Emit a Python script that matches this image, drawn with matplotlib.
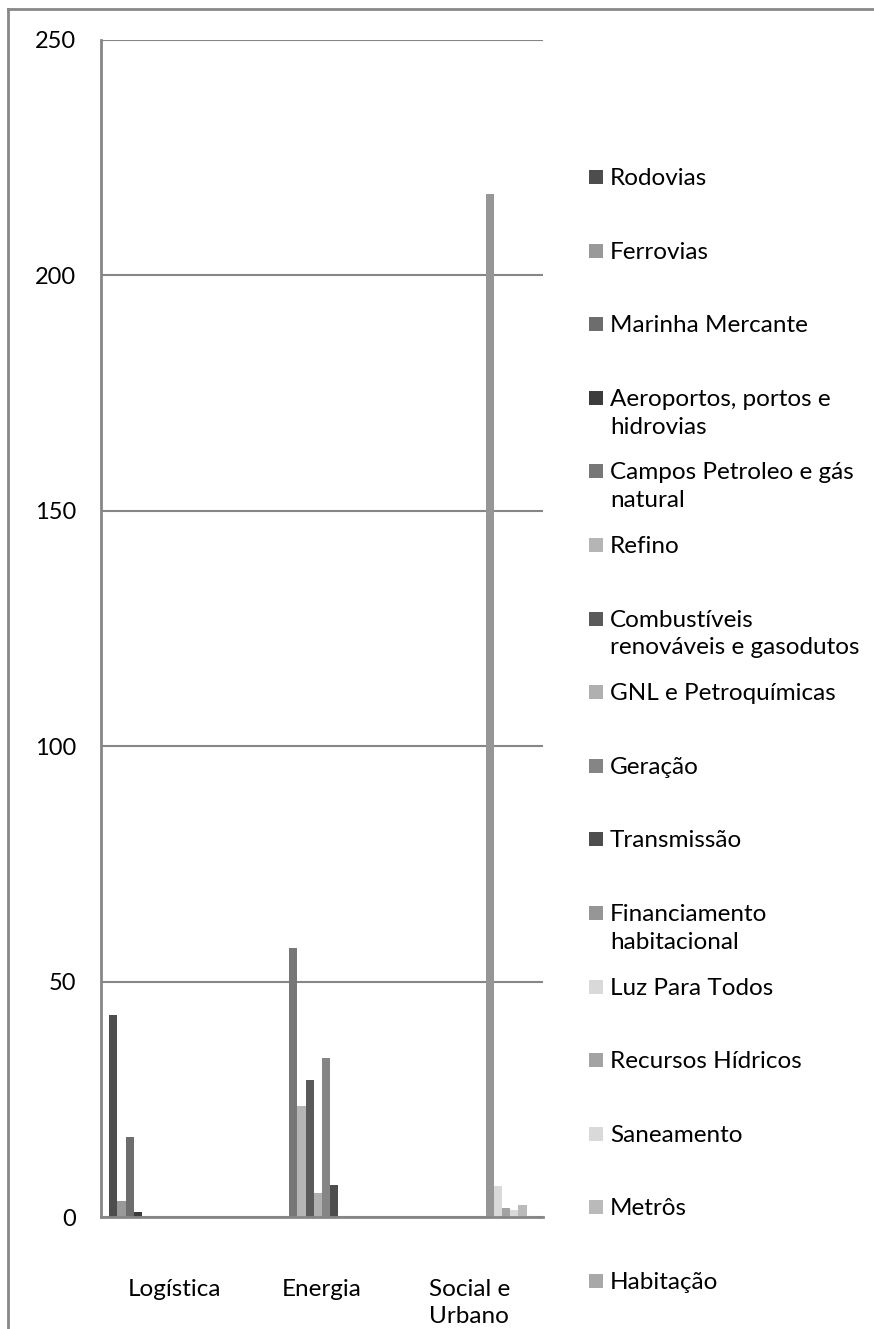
import numpy as np
import matplotlib
matplotlib.use("Agg")
import matplotlib.pyplot as plt
from matplotlib.lines import Line2D
from matplotlib.patches import Rectangle

plt.rcParams['font.family'] = ['Lato', 'DejaVu Sans']

categories = ["Logística", "Energia", "Social e\nUrbano"]

series_names = [
    "Rodovias", "Ferrovias", "Marinha Mercante", "Aeroportos, portos e\nhidrovias",
    "Campos Petroleo e gás\nnatural", "Refino", "Combustíveis\nrenováveis e gasodutos",
    "GNL e Petroquímicas", "Geração", "Transmissão", "Financiamento\nhabitacional",
    "Luz Para Todos", "Recursos Hídricos", "Saneamento", "Metrôs", "Habitação",
]

# one row per series: Logística, Energia, Social e Urbano
values = [
    [43.0, 0, 0],
    [3.4, 0, 0],
    [17.0, 0, 0],
    [1.1, 0, 0],
    [0, 57.1, 0],
    [0, 23.6, 0],
    [0, 29.0, 0],
    [0, 5.0, 0],
    [0, 33.8, 0],
    [0, 6.8, 0],
    [0, 0, 217.3],
    [0, 0, 6.6],
    [0, 0, 1.9],
    [0, 0, 1.5],
    [0, 0, 2.6],
    [0, 0, 0.3],
]

colors = [
    "#4d4d4d", "#999999", "#6d6d6d", "#3c3c3c", "#777777", "#b5b5b5",
    "#5a5a5a", "#b0b0b0", "#858585", "#4d4d4d", "#969696", "#d9d9d9",
    "#a3a3a3", "#d9d9d9", "#bababa", "#a8a8a8",
]

W, H = 874, 1329
fig = plt.figure(figsize=(W / 100, H / 100), dpi=100)
ax = fig.add_axes([101 / W, 1 - 1217 / H, 442 / W, 1177 / H])

grey = "#868686"
fs = 17.5
n = len(series_names)
bw = 1 / (n + 2)
x = np.arange(len(categories))
for i, (name, vals) in enumerate(zip(series_names, values)):
    ax.bar(x + (i - (n - 1) / 2) * bw, vals, width=bw, color=colors[i],
           label=name, zorder=3)

ax.set_xlim(-0.5, len(categories) - 0.5)
ax.set_ylim(0, 250)
ax.set_yticks(np.arange(0, 251, 50))
ax.set_xticks(x)
ax.set_xticklabels(categories, fontsize=fs, multialignment="center",
                   linespacing=1.35)
ax.tick_params(axis="x", length=0, pad=45)
ax.tick_params(axis="y", length=0, pad=18, labelsize=fs - 0.5)
ax.yaxis.grid(True, color=grey, linewidth=1.5, zorder=0)
for s in ["top", "right"]:
    ax.spines[s].set_visible(False)
for s in ["left", "bottom"]:
    ax.spines[s].set_color(grey)
    ax.spines[s].set_linewidth(2)
    ax.spines[s].set_zorder(4)

# legend drawn by hand so the spacing matches
slot0, step = 177, 73.6
for i, name in enumerate(series_names):
    yc = slot0 + i * step
    fig.patches.append(Rectangle((589 / W, 1 - (yc + 7) / H), 14 / W, 14 / H,
                                 transform=fig.transFigure, facecolor=colors[i],
                                 edgecolor="none"))
    fig.text(610 / W, 1 - (yc - 9) / H, name, fontsize=fs, va="top",
             ha="left", linespacing=1.4)

# outer chart border
fig.lines.append(Line2D([8 / W, 8 / W], [0, 1 - 9 / H], transform=fig.transFigure,
                        color="#888888", linewidth=2))
fig.lines.append(Line2D([8 / W, 1], [1 - 9 / H, 1 - 9 / H], transform=fig.transFigure,
                        color="#888888", linewidth=2))

fig.savefig("out.png", dpi=100)
